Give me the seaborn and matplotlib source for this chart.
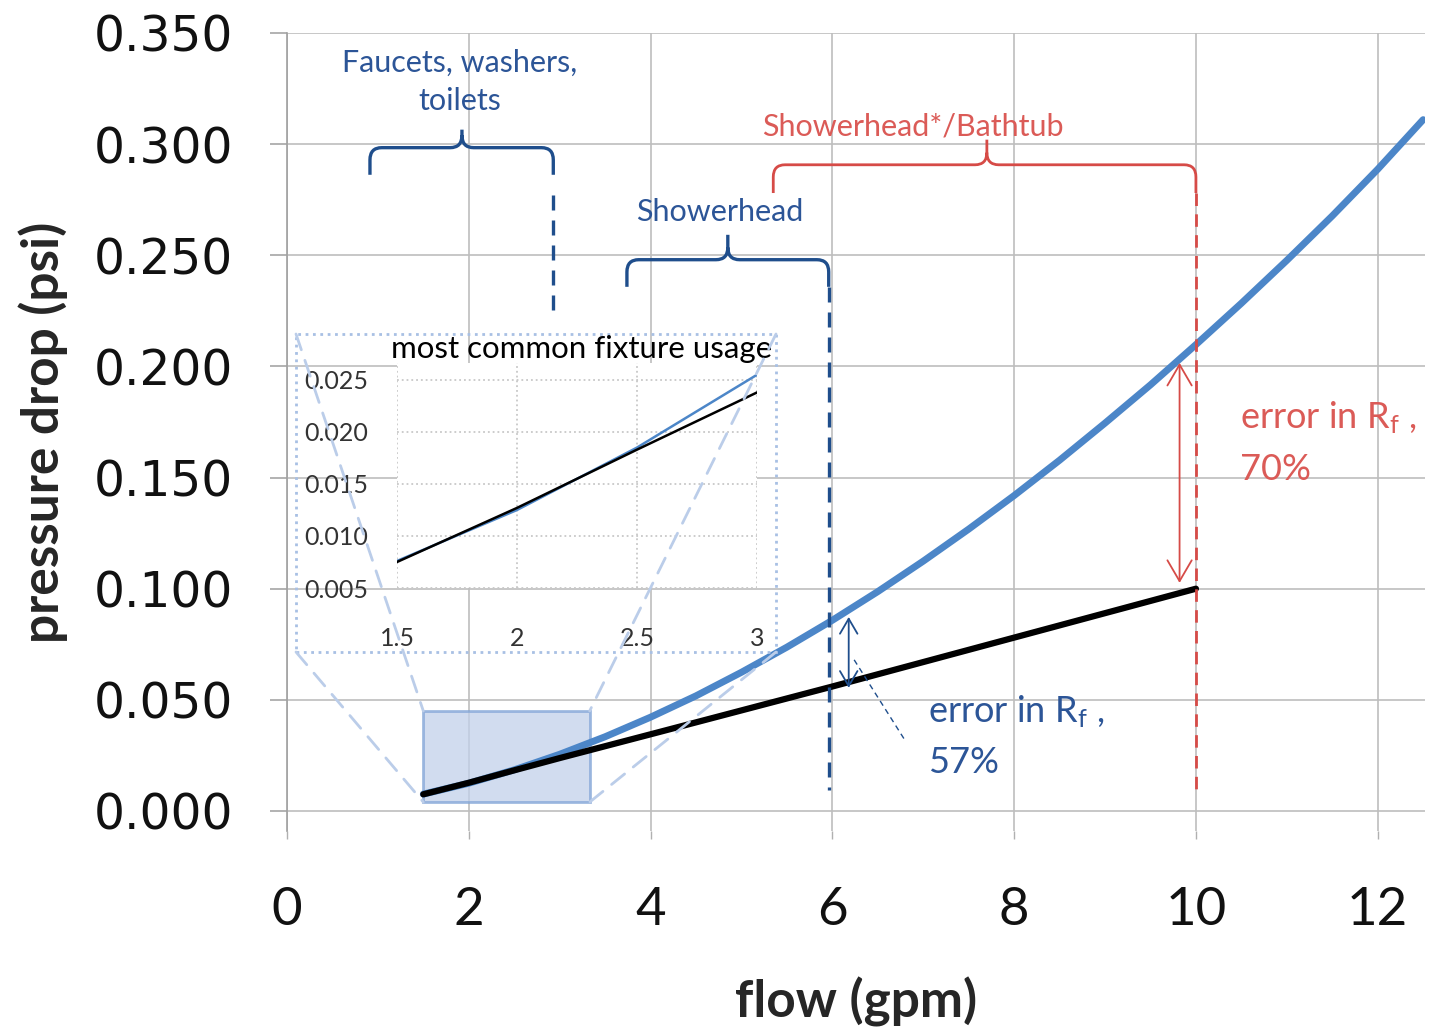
import numpy as np
import pandas as pd
import matplotlib
matplotlib.use("Agg")
import matplotlib.pyplot as plt
import seaborn as sns
from matplotlib.path import Path
from matplotlib.patches import PathPatch, Rectangle, ConnectionPatch

# ---- data -------------------------------------------------------------
flow_gpm = [1.5, 2.0, 2.5, 3.0, 3.5, 4.0, 4.5, 5.0, 5.5, 6.0, 6.5, 7.0,
            7.5, 8.0, 8.5, 9.0, 9.5, 10.0, 10.5, 11.0, 11.5, 12.0, 12.5]
dp_actual = [0.0076, 0.0125, 0.0185, 0.0255, 0.0334, 0.0422, 0.0518, 0.0624,
             0.0737, 0.0858, 0.0987, 0.1124, 0.1268, 0.1419, 0.1578, 0.1745,
             0.1917, 0.2098, 0.2284, 0.2477, 0.2677, 0.2887, 0.3110]
flow_linear = [1.5, 2.0, 2.5, 3.0, 4.0, 6.0, 8.0, 10.0]
dp_linear = [0.0075, 0.0127, 0.0183, 0.0238, 0.0345, 0.0560, 0.0780, 0.1000]

x_ticks = [0, 2, 4, 6, 8, 10, 12]
y_ticks = [0.000, 0.050, 0.100, 0.150, 0.200, 0.250, 0.300, 0.350]
inset_x_ticks = [1.5, 2.0, 2.5, 3.0]
inset_x_labels = ["1.5", "2", "2.5", "3"]
inset_y_ticks = [0.005, 0.010, 0.015, 0.020, 0.025]

# error arrows: (flow, upper dp, lower dp)
err_shower = (6.18, 0.0873, 0.0554)
err_bath = (9.82, 0.2016, 0.1026)

df_actual = pd.DataFrame({"flow": flow_gpm, "dp": dp_actual})
df_linear = pd.DataFrame({"flow": flow_linear, "dp": dp_linear})

# ---- style ------------------------------------------------------------
sns.set_theme(style="whitegrid")
plt.rcParams["font.family"] = ["Lato", "DejaVu Sans"]
plt.rcParams["mathtext.fontset"] = "custom"
plt.rcParams["mathtext.rm"] = "Lato"

BLUE = "#4C86C8"
NAVY = "#1F4E8C"
NAVY_TXT = "#2C5597"
RED = "#D64B47"
RED_TXT = "#DB5B57"
GRID = "#BEBEBE"
LIGHT = "#BBCDE9"

fig = plt.figure(figsize=(14.32, 10.30), dpi=100)
fig.patch.set_facecolor("white")
ax = fig.add_axes([0.2004, 0.1932, 0.7947, 0.7748])

ax.set_xlim(0, 12.52)
ax.set_ylim(-0.009, 0.350)

# zoom window over the common-usage range
ax.add_patch(Rectangle((1.5, 0.004), 1.83, 0.041, facecolor="#C2D1EA",
                       edgecolor="#7FA3D6", lw=2, alpha=0.75, zorder=2))

sns.lineplot(data=df_linear, x="flow", y="dp", ax=ax, color="black", lw=4.5,
             zorder=4, solid_capstyle="round")
sns.lineplot(data=df_actual, x="flow", y="dp", ax=ax, color=BLUE, lw=5,
             zorder=3, solid_capstyle="round")

ax.set_xticks(x_ticks)
ax.set_xticklabels([str(v) for v in x_ticks], fontsize=38, family="Lato")
ax.set_yticks(y_ticks)
ax.set_yticklabels([f"{v:.3f}" for v in y_ticks], fontsize=35, family="DejaVu Sans")
ax.grid(True, color=GRID, lw=1.2)
for s in ["top", "right", "bottom"]:
    ax.spines[s].set_visible(False)
ax.spines["left"].set_color("#A0A0A0")
ax.spines["left"].set_linewidth(1.2)
ax.tick_params(axis="y", direction="out", length=12, width=1.2, color="#A6A6A6",
               pad=27, labelcolor="#111111", left=True)
ax.tick_params(axis="x", direction="out", length=6, width=1.0, color="#B0B0B0",
               pad=34, labelcolor="#111111", bottom=True)
ax.set_xlabel("flow (gpm)", fontsize=37, fontweight="bold", labelpad=31)
ax.set_ylabel("pressure drop (psi)", fontsize=37, fontweight="bold", labelpad=18)


def brace(x0, x1, xm, y_bar, y_arm, y_tip, color, lw=2.4):
    rx, ry = 0.13, 0.0055
    verts = [(x0, y_arm), (x0, y_bar - ry), (x0, y_bar), (x0 + rx, y_bar),
             (xm - rx, y_bar), (xm, y_bar), (xm, y_bar + ry), (xm, y_tip),
             (xm, y_bar + ry), (xm, y_bar), (xm + rx, y_bar),
             (x1 - rx, y_bar), (x1, y_bar), (x1, y_bar - ry), (x1, y_arm)]
    codes = [Path.MOVETO, Path.LINETO, Path.CURVE3, Path.CURVE3,
             Path.LINETO, Path.CURVE3, Path.CURVE3, Path.LINETO,
             Path.MOVETO, Path.CURVE3, Path.CURVE3,
             Path.LINETO, Path.CURVE3, Path.CURVE3, Path.LINETO]
    ax.add_patch(PathPatch(Path(verts, codes), facecolor="none", edgecolor=color,
                           lw=lw, zorder=5, capstyle="butt"))


dash = (0, (4.5, 3))
LBL = 22
# faucets, washers, toilets
brace(0.913, 2.93, 1.925, 0.2984, 0.2862, 0.3065, NAVY)
ax.plot([2.93, 2.93], [0.277, 0.2255], color=NAVY, lw=2.4, ls=dash, zorder=5)
ax.text(1.90, 0.3366, "Faucets, washers,", color=NAVY_TXT, fontsize=LBL,
        ha="center", va="center")
ax.text(1.90, 0.3195, "toilets", color=NAVY_TXT, fontsize=LBL, ha="center", va="center")

# showerhead
brace(3.74, 5.96, 4.85, 0.248, 0.2358, 0.2592, NAVY)
ax.plot([5.96, 5.96], [0.2358, 0.0095], color=NAVY, lw=2.4, ls=dash, zorder=5)
ax.text(4.76, 0.2696, "Showerhead", color=NAVY_TXT, fontsize=LBL, ha="center", va="center")

# showerhead* / bathtub
brace(5.35, 10.0, 7.70, 0.2907, 0.278, 0.302, RED, lw=2.0)
ax.plot([10.0, 10.0], [0.278, 0.0095], color=RED, lw=2.0, ls=dash, zorder=5)
ax.text(6.88, 0.3078, "Showerhead*/Bathtub", color=RED_TXT, fontsize=LBL,
        ha="center", va="center")

# error arrows and labels
ax.annotate("", xy=(err_bath[0], err_bath[2]), xytext=(err_bath[0], err_bath[1]),
            arrowprops=dict(arrowstyle="<->,head_length=0.6,head_width=0.35",
                            color=RED, lw=1.3, mutation_scale=25,
                            shrinkA=0, shrinkB=0), zorder=6)
ax.annotate("", xy=(err_shower[0], err_shower[2]), xytext=(err_shower[0], err_shower[1]),
            arrowprops=dict(arrowstyle="<->,head_length=0.6,head_width=0.35",
                            color=NAVY, lw=1.3, mutation_scale=18,
                            shrinkA=0, shrinkB=0), zorder=6)
ax.plot([6.24, 6.79], [0.068, 0.0324], color=NAVY, lw=1.0, ls=(0, (4, 3)), zorder=6)

ax.text(10.48, 0.1769, r"error in R$\mathregular{_f}$ ,", color=RED_TXT, fontsize=26,
        ha="left", va="center")
ax.text(10.48, 0.1535, "70%", color=RED_TXT, fontsize=26, ha="left", va="center")
ax.text(7.05, 0.0446, r"error in R$\mathregular{_f}$ ,", color=NAVY_TXT, fontsize=26,
        ha="left", va="center")
ax.text(7.05, 0.0216, "57%", color=NAVY_TXT, fontsize=26, ha="left", va="center")

# ---- inset --------------------------------------------------------------
W, H = 1432.0, 1030.0
box = (296 / W, 1 - 652 / H, 480 / W, 318 / H)
fig.add_artist(Rectangle(box[:2], box[2], box[3], transform=fig.transFigure,
                         facecolor="none", edgecolor="#A8C0E4", lw=2, ls=":",
                         zorder=3))

axins = fig.add_axes([397 / W, 1 - 588 / H, 360 / W, 225 / H])
axins.set_facecolor("white")
sns.lineplot(data=df_actual[df_actual.flow <= 3], x="flow", y="dp", ax=axins,
             color=BLUE, lw=1.8)
sns.lineplot(data=df_linear[df_linear.flow <= 3], x="flow", y="dp", ax=axins,
             color="black", lw=1.8)
axins.set_xlim(1.5, 3.0)
axins.set_ylim(0.005, 0.02663)
axins.set_xticks(inset_x_ticks)
axins.set_xticklabels(inset_x_labels, fontsize=18)
axins.set_yticks(inset_y_ticks)
axins.set_yticklabels([f"{v:.3f}" for v in inset_y_ticks], fontsize=18)
axins.set_xlabel("")
axins.set_ylabel("")
axins.grid(True, color="#C8C8C8", ls=":", lw=1.3)
for s in axins.spines.values():
    s.set_visible(False)
axins.tick_params(axis="both", length=0, labelcolor="#333333")
axins.tick_params(axis="y", pad=21)
axins.tick_params(axis="x", pad=28)
fig.text(772 / W, 1 - 349 / H, "most common fixture usage", fontsize=22.5,
         ha="right", va="center", color="black")

# dashed connectors from the zoom window to the inset frame
corners_fig = [(box[0], box[1] + box[3]), (box[0], box[1]),
               (box[0] + box[2], box[1] + box[3]), (box[0] + box[2], box[1])]
corners_data = [(1.5, 0.045), (1.5, 0.004), (3.33, 0.045), (3.33, 0.004)]
for cf, cd in zip(corners_fig, corners_data):
    con = ConnectionPatch(xyA=cf, coordsA="figure fraction", xyB=cd,
                          coordsB=ax.transData, color=LIGHT, lw=2,
                          ls=(0, (6, 4)), zorder=7)
    fig.add_artist(con)

fig.savefig("out.png", dpi=100)
